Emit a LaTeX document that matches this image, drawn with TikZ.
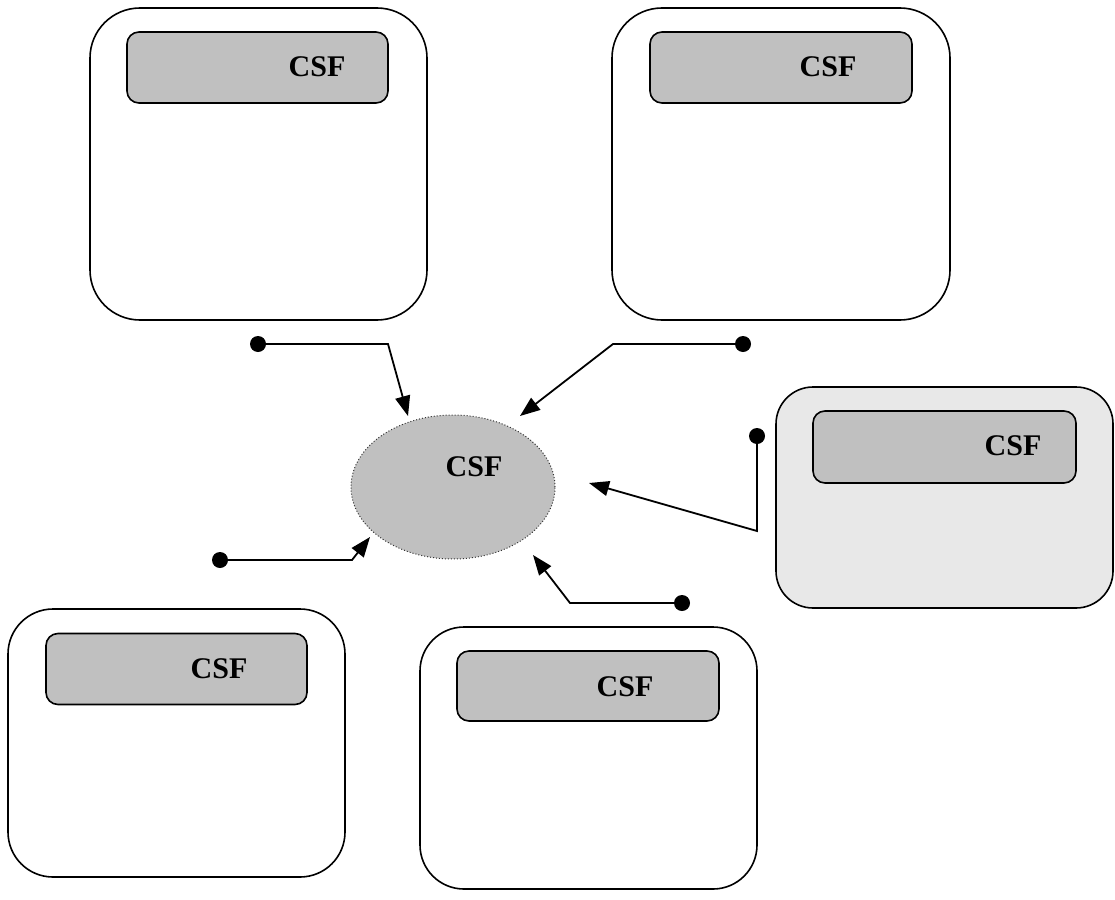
\documentclass[tikz,border=0pt]{standalone}
\usepackage{fontspec}
\setmainfont{Liberation Serif}
\usetikzlibrary{arrows.meta,shapes.geometric}
\definecolor{midgray}{RGB}{192,192,192}
\definecolor{lightgray}{RGB}{232,232,232}
\tikzset{
  outerbox/.style={draw=black, line width=1.6pt, fill=white, inner sep=0pt},
  innerbox/.style={draw=black, line width=1.6pt, fill=midgray, rounded corners=12pt, inner sep=0pt, minimum height=71pt},
  lbl/.style={font=\fontsize{30}{36}\selectfont\bfseries, inner sep=0pt},
  dotnode/.style={circle, fill=black, minimum size=16pt, inner sep=0pt},
  conn/.style={line width=1.8pt, -{Triangle[length=20pt,width=15pt]}},
}
\begin{document}
\begin{tikzpicture}[x=1pt,y=-1pt]
\useasboundingbox[fill=white] (0,0) rectangle (1115,899);
% outer boxes
\node[outerbox, rounded corners=50pt, minimum width=337pt, minimum height=312pt] (b1) at (258.5,164) {};
\node[outerbox, rounded corners=50pt, minimum width=338pt, minimum height=312pt] (b2) at (781,164) {};
\node[outerbox, fill=lightgray, rounded corners=37pt, minimum width=337pt, minimum height=221pt] (b3) at (944.5,497.5) {};
\node[outerbox, rounded corners=45pt, minimum width=337pt, minimum height=268pt] (b4) at (176.5,743) {};
\node[outerbox, rounded corners=44pt, minimum width=337pt, minimum height=262pt] (b5) at (588.5,758) {};
% inner boxes
\node[innerbox, minimum width=261pt] (i1) at (257.5,67.5) {};
\node[innerbox, minimum width=262pt] (i2) at (781,67.5) {};
\node[innerbox, minimum width=263pt, minimum height=72pt] (i3) at (944.5,447) {};
\node[innerbox, minimum width=261pt] (i4) at (176.5,669) {};
\node[innerbox, minimum width=262pt, minimum height=70pt] (i5) at (588,686) {};
% labels
\node[lbl] (t1) at (317,67) {CSF};
\node[lbl] (t2) at (828,67) {CSF};
\node[lbl] (t3) at (1013,446) {CSF};
\node[lbl] (t4) at (219,669) {CSF};
\node[lbl] (t5) at (625,687) {CSF};
% central ellipse
\node[ellipse, draw=black!80, dotted, line width=1pt, fill=midgray, minimum width=204pt, minimum height=144pt, inner sep=0pt] (ell) at (453,487) {};
\node[lbl] (te) at (474,467) {CSF};
% dots
\node[dotnode] (dA) at (258,344) {};
\node[dotnode] (dB) at (743,344) {};
\node[dotnode] (dC) at (757,436) {};
\node[dotnode] (dD) at (682,603) {};
\node[dotnode] (dE) at (220,560) {};
% bends and tips
\coordinate (cA) at (388,344);
\coordinate (tA) at (408,416);
\coordinate (cB) at (613,344);
\coordinate (tB) at (520,416);
\coordinate (cC) at (757,531);
\coordinate (tC) at (589,483);
\coordinate (cD) at (570,603);
\coordinate (tD) at (533,555);
\coordinate (cE) at (352,560);
\coordinate (tE) at (370,537);
% connectors
\draw[conn] (dA.center) -- (cA) -- (tA);
\draw[conn] (dB.center) -- (cB) -- (tB);
\draw[conn] (dC.center) -- (cC) -- (tC);
\draw[conn] (dD.center) -- (cD) -- (tD);
\draw[conn] (dE.center) -- (cE) -- (tE);
\end{tikzpicture}
\end{document}
